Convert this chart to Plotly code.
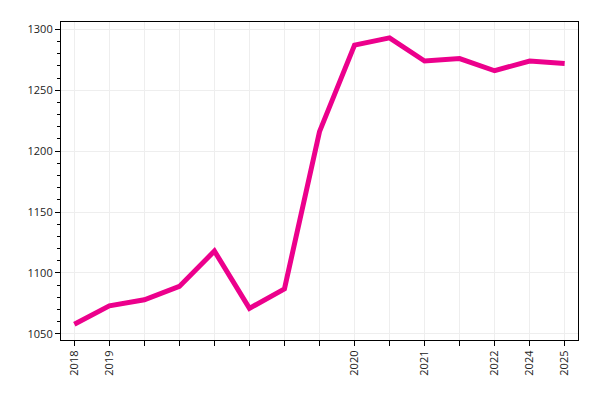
import plotly.graph_objects as go

# x positions are evenly spaced periods, only some carry a year label
period_labels = ["2018", "2019", "", "", "", "", "", "", "2020", "", "2021", "", "2022", "2024", "2025"]
values = [1058, 1073, 1078, 1089, 1118, 1071, 1087, 1216, 1287, 1293, 1274, 1276, 1266, 1274, 1272]

x_idx = list(range(len(values)))

fig = go.Figure()
fig.add_trace(go.Scatter(
    x=x_idx, y=values, mode="lines",
    line=dict(color="#EC008C", width=5),
    showlegend=False,
))

axis_common = dict(
    showline=True, linecolor="black", linewidth=1.2, mirror=True,
    ticks="outside", ticklen=5, tickcolor="black",
    showgrid=True, gridcolor="#eeeeee", gridwidth=1,
    zeroline=False,
    tickfont=dict(family="Open Sans", size=11, color="#222"),
)

fig.update_xaxes(
    **axis_common,
    tickmode="array", tickvals=x_idx, ticktext=period_labels,
    tickangle=-90, range=[-0.38, 14.38],
)
fig.update_yaxes(
    **axis_common,
    range=[1045, 1306], dtick=50, tick0=1050,
    minor=dict(ticks="outside", ticklen=3, dtick=10, tickcolor="black", showgrid=False),
)

# page body adds an 8px offset, margins account for it
fig.update_layout(
    width=600, height=400,
    margin=dict(l=53, r=30, t=14, b=68),
    plot_bgcolor="white", paper_bgcolor="white",
)

fig.write_html("out.html")
